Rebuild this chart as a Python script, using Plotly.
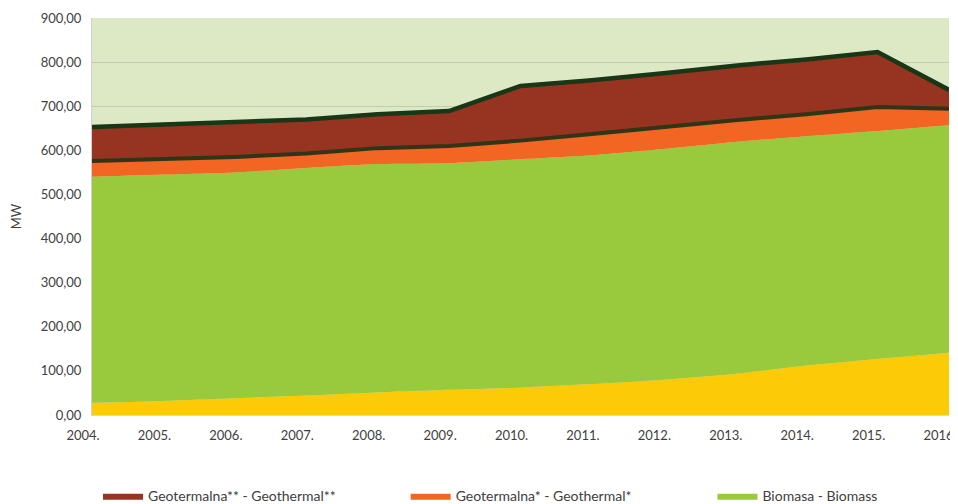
import plotly.graph_objects as go
import numpy as np

years = ["2004.", "2005.", "2006.", "2007.", "2008.", "2009.", "2010.",
         "2011.", "2012.", "2013.", "2014.", "2015.", "2016."]

# layer values (MW)
other_yellow = [28, 32, 38, 44, 51, 57, 62, 70, 80, 93, 112, 127, 141]
biomass = [512, 513, 512, 516, 518, 514, 518, 519, 523, 526, 520, 517, 516]
geo1 = [36, 35, 35, 33, 36, 39, 42, 48, 50, 49, 50, 54, 37]
geo2 = [77, 78, 78, 77, 77, 79, 124, 122, 122, 124, 124, 125, 43]

name_geo2 = "Geotermalna** - Geothermal**"
name_geo1 = "Geotermalna* - Geothermal*"
name_bio = "Biomasa - Biomass"

fig = go.Figure()

fig.add_trace(go.Scatter(x=years, y=other_yellow, stackgroup="s", mode="lines",
                         line=dict(width=0, shape="spline", smoothing=0.6),
                         fillcolor="#fdca08", showlegend=False, name="",
                         hoverinfo="skip"))
fig.add_trace(go.Scatter(x=years, y=biomass, stackgroup="s", mode="lines",
                         line=dict(width=0, shape="spline", smoothing=0.6, color="#99c93c"),
                         fillcolor="#99c93c", name=name_bio, legend="legend3"))
fig.add_trace(go.Scatter(x=years, y=geo1, stackgroup="s", mode="lines",
                         line=dict(width=0, color="#f26522"),
                         fillcolor="#f26522", name=name_geo1, legend="legend2"))
fig.add_trace(go.Scatter(x=years, y=geo2, stackgroup="s", mode="lines",
                         line=dict(width=0, color="#963421"),
                         fillcolor="#963421", name=name_geo2, legend="legend"))

cum1 = np.array(other_yellow) + np.array(biomass) + np.array(geo1)
cum2 = cum1 + np.array(geo2)
fig.add_trace(go.Scatter(x=years, y=cum1, mode="lines",
                         line=dict(color="#2f3517", width=4),
                         showlegend=False, hoverinfo="skip"))
fig.add_trace(go.Scatter(x=years, y=cum2, mode="lines",
                         line=dict(color="#173717", width=4.5),
                         showlegend=False, hoverinfo="skip"))

leg_common = dict(orientation="h", xanchor="left", y=-0.164, yanchor="top",
                  font=dict(size=14, color="#404040"), bgcolor="rgba(0,0,0,0)",
                  itemwidth=40)
# page body has an 8px default margin, so the figure is sized/offset to fit the window
fig.update_layout(
    width=950, height=496,
    margin=dict(l=84, r=9, t=10, b=89, autoexpand=False),
    paper_bgcolor="white",
    plot_bgcolor="#dde9c5",
    separators=", ",
    font=dict(family="Lato, 'Open Sans', sans-serif", size=13, color="#404040"),
    legend=dict(x=0.007, **leg_common),
    legend2=dict(x=0.366, **leg_common),
    legend3=dict(x=0.724, **leg_common),
    showlegend=True,
)
fig.update_xaxes(type="category", range=[0, 12], showgrid=False,
                 tickfont=dict(size=13, color="#404040"),
                 showline=True, linecolor="#d9d9d9", linewidth=1,
                 ticks="", ticklabelstandoff=8, ticklabelshift=-9,
                 zeroline=False)
fig.update_yaxes(range=[0, 900], dtick=100, tickformat=".2f",
                 gridcolor="#c3ccb2", gridwidth=1,
                 showline=True, linecolor="#d0d0d0", linewidth=1,
                 tickfont=dict(size=13, color="#404040"),
                 ticks="", ticklabelstandoff=7,
                 title=dict(text="MW", font=dict(size=13, color="#404040"), standoff=22),
                 zeroline=False)

fig.write_html("out.html")
